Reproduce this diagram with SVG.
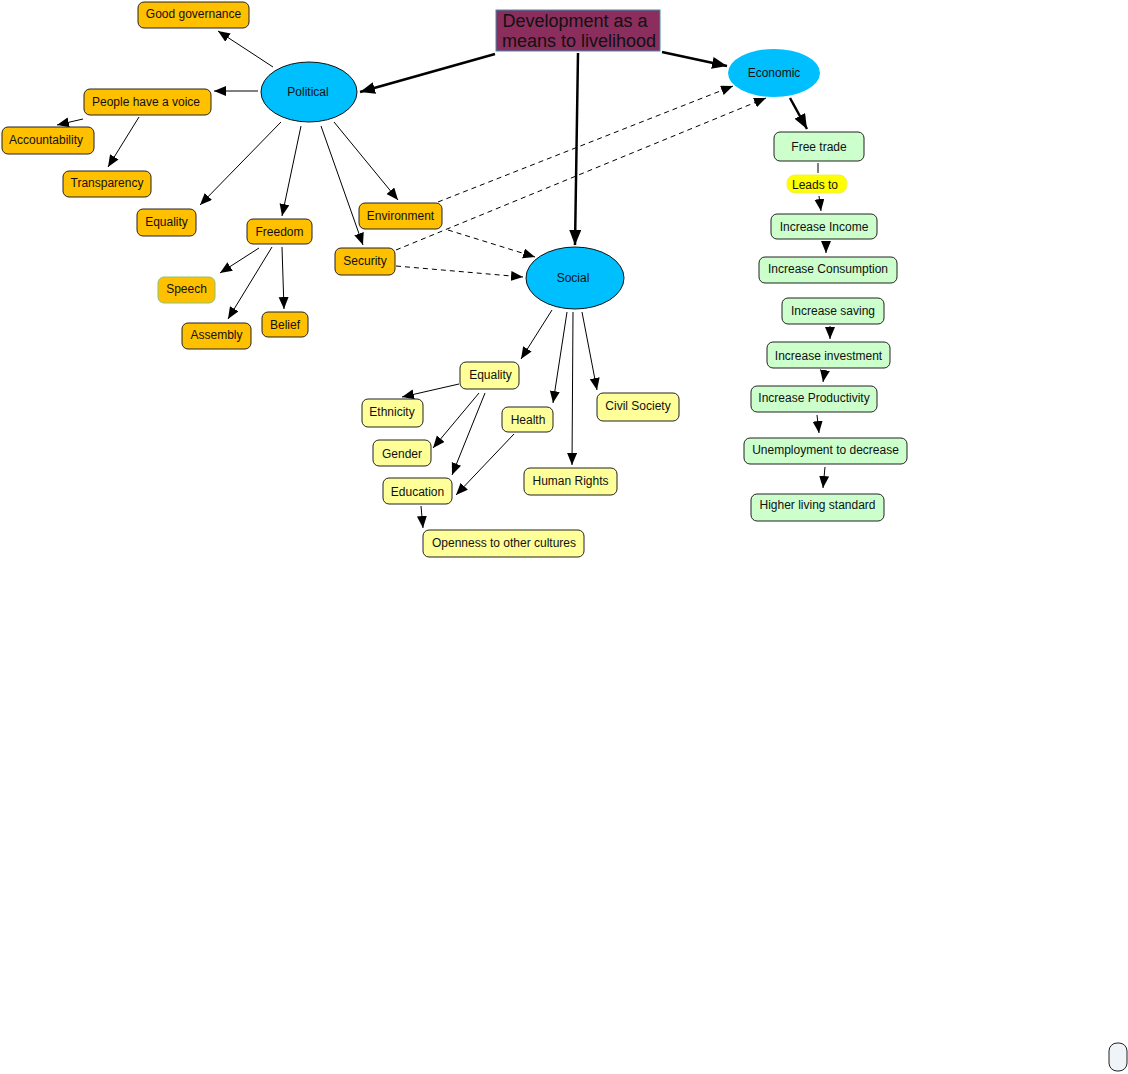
<svg xmlns="http://www.w3.org/2000/svg" width="1128" height="1074" viewBox="0 0 1128 1074">
<style>
text{font-family:"Liberation Sans",Arial,sans-serif;font-size:12px;fill:#111;text-anchor:middle}
.o{fill:#FFC000;stroke:#222;stroke-width:1}
.y{fill:#FFFF99;stroke:#222;stroke-width:1}
.g{fill:#CCFFCC;stroke:#222;stroke-width:1}
.el{fill:#00BFFF;stroke:#111;stroke-width:1}
.c line{stroke:#000;stroke-width:1;marker-end:url(#a)}
.c line.t{stroke-width:2.5;marker-end:url(#A)}
.c line.d{stroke-dasharray:5,4}
.c line.n{marker-end:none}
</style>
<defs>
<marker id="a" markerUnits="userSpaceOnUse" markerWidth="13" markerHeight="11" refX="12" refY="5" orient="auto"><path d="M0,0 L12,5 L0,10 z" fill="#000"/></marker>
<marker id="A" markerUnits="userSpaceOnUse" markerWidth="16" markerHeight="13" refX="15" refY="6" orient="auto"><path d="M0,0 L15,6 L0,12 z" fill="#000"/></marker>
</defs>
<rect width="1128" height="1074" fill="#fff"/>
<g class="c" id="connectors">
<line class="t" x1="495" y1="54" x2="360" y2="92"/>
<line class="t" x1="578" y1="53" x2="575" y2="245"/>
<line class="t" x1="662" y1="52" x2="727" y2="66"/>
<line class="t" x1="790" y1="98" x2="807" y2="129"/>
<line x1="273" y1="67" x2="218" y2="31"/>
<line x1="258" y1="91" x2="214" y2="91"/>
<line x1="83" y1="119" x2="57" y2="125"/>
<line x1="139" y1="117" x2="108" y2="167"/>
<line x1="281" y1="122" x2="200" y2="205"/>
<line x1="301" y1="126" x2="282" y2="216"/>
<line x1="321" y1="126" x2="363" y2="245"/>
<line x1="334" y1="122" x2="398" y2="200"/>
<line x1="259" y1="248" x2="220" y2="273"/>
<line x1="272" y1="247" x2="228" y2="319"/>
<line x1="282" y1="247" x2="284" y2="309"/>
<line class="d" x1="438" y1="202" x2="733" y2="86"/>
<line class="d" x1="396" y1="250" x2="766" y2="98"/>
<line class="d" x1="448" y1="230" x2="535" y2="257"/>
<line class="d" x1="396" y1="266" x2="523" y2="277"/>
<line x1="552" y1="310" x2="521" y2="359"/>
<line x1="567" y1="312" x2="553" y2="403"/>
<line x1="573" y1="312" x2="572" y2="465"/>
<line x1="582" y1="312" x2="597" y2="390"/>
<line x1="459" y1="384" x2="402" y2="397"/>
<line x1="479" y1="393" x2="433" y2="448"/>
<line x1="485" y1="393" x2="452" y2="475"/>
<line x1="514" y1="434" x2="456" y2="495"/>
<line x1="421" y1="506" x2="423" y2="528"/>
<line class="n" x1="818" y1="163" x2="818" y2="173"/>
<line x1="819" y1="196" x2="821" y2="211"/>
<line x1="826" y1="241" x2="826" y2="253"/>
<line x1="830" y1="326" x2="830" y2="339"/>
<line x1="825" y1="370" x2="823" y2="382"/>
<line x1="817" y1="415" x2="819" y2="433"/>
<line x1="825" y1="467" x2="823" y2="488"/>
</g>
<g id="title"><rect x="496" y="10" width="164" height="41" fill="#8B2E5E" stroke="#3E8FAA" stroke-width="1"/><text x="575" y="27" style="font-size:18px">Development as a</text><text x="579" y="47" style="font-size:18px">means to livelihood</text></g>
<g id="political"><ellipse class="el" cx="309" cy="92" rx="48" ry="30"/><text x="308" y="96">Political</text></g>
<g id="economic"><ellipse cx="774" cy="73" rx="46" ry="24" fill="#00BFFF"/><text x="774" y="77">Economic</text></g>
<g id="social"><ellipse class="el" cx="575" cy="278" rx="49" ry="31"/><text x="573" y="282">Social</text></g>
<g id="good-governance"><rect class="o" x="138" y="2" width="111" height="26" rx="6"/><text x="193.5" y="18">Good governance</text></g>
<g id="people-voice"><rect class="o" x="84" y="89" width="127" height="26" rx="6"/><text x="146" y="106">People have a voice</text></g>
<g id="accountability"><rect class="o" x="2" y="127" width="92" height="27" rx="6"/><text x="46" y="144">Accountability</text></g>
<g id="transparency"><rect class="o" x="63" y="171" width="88" height="26" rx="6"/><text x="107" y="187">Transparency</text></g>
<g id="equality-p"><rect class="o" x="137" y="209" width="59" height="27" rx="6"/><text x="166.5" y="226">Equality</text></g>
<g id="freedom"><rect class="o" x="247" y="219" width="65" height="25" rx="6"/><text x="279.5" y="236">Freedom</text></g>
<g id="speech"><rect x="158" y="277" width="57" height="26" rx="6" fill="#FFC000" stroke="#8DC26A" stroke-width="1"/><text x="186.5" y="293">Speech</text></g>
<g id="assembly"><rect class="o" x="182" y="323" width="69" height="26" rx="6"/><text x="216.5" y="339">Assembly</text></g>
<g id="belief"><rect class="o" x="262" y="312" width="46" height="25" rx="6"/><text x="285" y="329">Belief</text></g>
<g id="security"><rect class="o" x="335" y="248" width="60" height="27" rx="6"/><text x="365" y="265">Security</text></g>
<g id="environment"><rect class="o" x="359" y="203" width="83" height="26" rx="6"/><text x="400.5" y="220">Environment</text></g>
<g id="equality-s"><rect class="y" x="460" y="362" width="59" height="27" rx="6"/><text x="490.5" y="379">Equality</text></g>
<g id="ethnicity"><rect class="y" x="362" y="399" width="61" height="28" rx="6"/><text x="392" y="416">Ethnicity</text></g>
<g id="gender"><rect class="y" x="373" y="440" width="58" height="26" rx="6"/><text x="402" y="458">Gender</text></g>
<g id="education"><rect class="y" x="383" y="478" width="69" height="26" rx="6"/><text x="417.5" y="496">Education</text></g>
<g id="health"><rect class="y" x="502" y="407" width="51" height="25" rx="6"/><text x="528" y="424">Health</text></g>
<g id="human-rights"><rect class="y" x="524" y="468" width="93" height="27" rx="6"/><text x="570.5" y="485">Human Rights</text></g>
<g id="civil-society"><rect class="y" x="597" y="393" width="82" height="28" rx="6"/><text x="638" y="410">Civil Society</text></g>
<g id="openness"><rect class="y" x="423" y="530" width="161" height="27" rx="6"/><text x="504" y="547">Openness to other cultures</text></g>
<g id="free-trade"><rect class="g" x="774" y="132" width="90" height="29" rx="6"/><text x="819" y="151">Free trade</text></g>
<g id="leads-to"><rect x="787" y="175" width="60" height="18" rx="8" fill="#FFFF00" stroke="#F2EE55" stroke-width="1"/><text x="815" y="189">Leads to</text></g>
<g id="increase-income"><rect class="g" x="771" y="214" width="106" height="25" rx="6"/><text x="824" y="231">Increase Income</text></g>
<g id="increase-consumption"><rect class="g" x="759" y="257" width="138" height="26" rx="6"/><text x="828" y="273">Increase Consumption</text></g>
<g id="increase-saving"><rect class="g" x="782" y="298" width="102" height="26" rx="6"/><text x="833" y="315">Increase saving</text></g>
<g id="increase-investment"><rect class="g" x="767" y="342" width="123" height="26" rx="6"/><text x="828.5" y="360">Increase investment</text></g>
<g id="increase-productivity"><rect class="g" x="751" y="386" width="126" height="26" rx="6"/><text x="814" y="402">Increase Productivity</text></g>
<g id="unemployment"><rect class="g" x="744" y="438" width="163" height="26" rx="6"/><text x="825.5" y="454">Unemployment to decrease</text></g>
<g id="higher-living"><rect class="g" x="751" y="494" width="133" height="27" rx="6"/><text x="817.5" y="509">Higher living standard</text></g>
<g id="corner-box"><rect x="1109" y="1043" width="18" height="28" rx="8" fill="#EEF4F8" stroke="#222" stroke-width="1"/></g>
</svg>
